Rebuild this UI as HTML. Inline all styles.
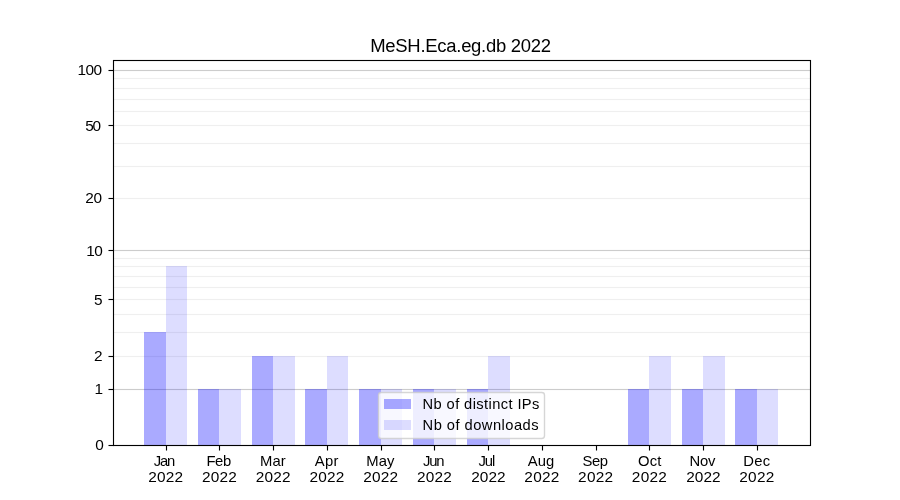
<!DOCTYPE html>
<html><head><meta charset="utf-8"><title>MeSH.Eca.eg.db 2022</title>
<style>
html,body{margin:0;padding:0;background:#fff;}
body{width:900px;height:500px;overflow:hidden;}
svg{display:block;}
text{font-family:"Liberation Sans",sans-serif;fill:#000;}
.t10{font-size:14.0px;}
.t12{font-size:17.6px;}
.ln{stroke:#000;stroke-width:1.111;fill:none;}
.gM{stroke:#cccccc;stroke-width:1.111;}
.gm{stroke:#efefef;stroke-width:1.111;}
.b1{fill:#0000ff;fill-opacity:0.3333;}
.b2{fill:#0000ff;fill-opacity:0.1333;}
</style></head>
<body>
<svg width="900" height="500" viewBox="0 0 900 500">
<rect x="0" y="0" width="900" height="500" fill="#ffffff"/>
<g>
<rect x="113" y="388" width="698" height="3" fill="#cccccc" fill-opacity="0.057"/><rect x="113" y="389" width="698" height="1" fill="#cccccc"/>
<rect x="113" y="249" width="698" height="3" fill="#cccccc" fill-opacity="0.057"/><rect x="113" y="250" width="698" height="1" fill="#cccccc"/>
<rect x="113" y="69" width="698" height="3" fill="#cccccc" fill-opacity="0.057"/><rect x="113" y="70" width="698" height="1" fill="#cccccc"/>
<rect x="113" y="355" width="698" height="3" fill="#efefef" fill-opacity="0.057"/><rect x="113" y="356" width="698" height="1" fill="#efefef"/>
<rect x="113" y="331" width="698" height="3" fill="#efefef" fill-opacity="0.057"/><rect x="113" y="332" width="698" height="1" fill="#efefef"/>
<rect x="113" y="313" width="698" height="3" fill="#efefef" fill-opacity="0.057"/><rect x="113" y="314" width="698" height="1" fill="#efefef"/>
<rect x="113" y="298" width="698" height="3" fill="#efefef" fill-opacity="0.057"/><rect x="113" y="299" width="698" height="1" fill="#efefef"/>
<rect x="113" y="286" width="698" height="3" fill="#efefef" fill-opacity="0.057"/><rect x="113" y="287" width="698" height="1" fill="#efefef"/>
<rect x="113" y="275" width="698" height="3" fill="#efefef" fill-opacity="0.057"/><rect x="113" y="276" width="698" height="1" fill="#efefef"/>
<rect x="113" y="265" width="698" height="3" fill="#efefef" fill-opacity="0.057"/><rect x="113" y="266" width="698" height="1" fill="#efefef"/>
<rect x="113" y="257" width="698" height="3" fill="#efefef" fill-opacity="0.057"/><rect x="113" y="258" width="698" height="1" fill="#efefef"/>
<rect x="113" y="197" width="698" height="3" fill="#efefef" fill-opacity="0.057"/><rect x="113" y="198" width="698" height="1" fill="#efefef"/>
<rect x="113" y="165" width="698" height="3" fill="#efefef" fill-opacity="0.057"/><rect x="113" y="166" width="698" height="1" fill="#efefef"/>
<rect x="113" y="142" width="698" height="3" fill="#efefef" fill-opacity="0.057"/><rect x="113" y="143" width="698" height="1" fill="#efefef"/>
<rect x="113" y="124" width="698" height="3" fill="#efefef" fill-opacity="0.057"/><rect x="113" y="125" width="698" height="1" fill="#efefef"/>
<rect x="113" y="110" width="698" height="3" fill="#efefef" fill-opacity="0.057"/><rect x="113" y="111" width="698" height="1" fill="#efefef"/>
<rect x="113" y="98" width="698" height="3" fill="#efefef" fill-opacity="0.057"/><rect x="113" y="99" width="698" height="1" fill="#efefef"/>
<rect x="113" y="87" width="698" height="3" fill="#efefef" fill-opacity="0.057"/><rect x="113" y="88" width="698" height="1" fill="#efefef"/>
<rect x="113" y="77" width="698" height="3" fill="#efefef" fill-opacity="0.057"/><rect x="113" y="78" width="698" height="1" fill="#efefef"/>
</g>
<g>
<rect class="b1" x="144" y="332" width="22" height="113"/>
<rect class="b2" x="166" y="266" width="21" height="179"/>
<rect class="b1" x="198" y="389" width="21" height="56"/>
<rect class="b2" x="219" y="389" width="22" height="56"/>
<rect class="b1" x="252" y="356" width="21" height="89"/>
<rect class="b2" x="273" y="356" width="22" height="89"/>
<rect class="b1" x="305" y="389" width="22" height="56"/>
<rect class="b2" x="327" y="356" width="21" height="89"/>
<rect class="b1" x="359" y="389" width="22" height="56"/>
<rect class="b2" x="381" y="389" width="21" height="56"/>
<rect class="b1" x="413" y="389" width="21" height="56"/>
<rect class="b2" x="434" y="389" width="22" height="56"/>
<rect class="b1" x="467" y="389" width="21" height="56"/>
<rect class="b2" x="488" y="356" width="22" height="89"/>
<rect class="b1" x="628" y="389" width="21" height="56"/>
<rect class="b2" x="649" y="356" width="22" height="89"/>
<rect class="b1" x="682" y="389" width="21" height="56"/>
<rect class="b2" x="703" y="356" width="22" height="89"/>
<rect class="b1" x="735" y="389" width="22" height="56"/>
<rect class="b2" x="757" y="389" width="21" height="56"/>
</g>
<g>
<rect x="165" y="445" width="3" height="5.5" fill="#000000" fill-opacity="0.057"/><rect x="166" y="445" width="1" height="5.5" fill="#000000"/>
<rect x="218" y="445" width="3" height="5.5" fill="#000000" fill-opacity="0.057"/><rect x="219" y="445" width="1" height="5.5" fill="#000000"/>
<rect x="272" y="445" width="3" height="5.5" fill="#000000" fill-opacity="0.057"/><rect x="273" y="445" width="1" height="5.5" fill="#000000"/>
<rect x="326" y="445" width="3" height="5.5" fill="#000000" fill-opacity="0.057"/><rect x="327" y="445" width="1" height="5.5" fill="#000000"/>
<rect x="380" y="445" width="3" height="5.5" fill="#000000" fill-opacity="0.057"/><rect x="381" y="445" width="1" height="5.5" fill="#000000"/>
<rect x="433" y="445" width="3" height="5.5" fill="#000000" fill-opacity="0.057"/><rect x="434" y="445" width="1" height="5.5" fill="#000000"/>
<rect x="487" y="445" width="3" height="5.5" fill="#000000" fill-opacity="0.057"/><rect x="488" y="445" width="1" height="5.5" fill="#000000"/>
<rect x="541" y="445" width="3" height="5.5" fill="#000000" fill-opacity="0.057"/><rect x="542" y="445" width="1" height="5.5" fill="#000000"/>
<rect x="595" y="445" width="3" height="5.5" fill="#000000" fill-opacity="0.057"/><rect x="596" y="445" width="1" height="5.5" fill="#000000"/>
<rect x="648" y="445" width="3" height="5.5" fill="#000000" fill-opacity="0.057"/><rect x="649" y="445" width="1" height="5.5" fill="#000000"/>
<rect x="702" y="445" width="3" height="5.5" fill="#000000" fill-opacity="0.057"/><rect x="703" y="445" width="1" height="5.5" fill="#000000"/>
<rect x="756" y="445" width="3" height="5.5" fill="#000000" fill-opacity="0.057"/><rect x="757" y="445" width="1" height="5.5" fill="#000000"/>
<rect x="108.5" y="444" width="5.5" height="3" fill="#000000" fill-opacity="0.057"/><rect x="108.5" y="445" width="5.5" height="1" fill="#000000"/>
<rect x="108.5" y="388" width="5.5" height="3" fill="#000000" fill-opacity="0.057"/><rect x="108.5" y="389" width="5.5" height="1" fill="#000000"/>
<rect x="108.5" y="355" width="5.5" height="3" fill="#000000" fill-opacity="0.057"/><rect x="108.5" y="356" width="5.5" height="1" fill="#000000"/>
<rect x="108.5" y="298" width="5.5" height="3" fill="#000000" fill-opacity="0.057"/><rect x="108.5" y="299" width="5.5" height="1" fill="#000000"/>
<rect x="108.5" y="249" width="5.5" height="3" fill="#000000" fill-opacity="0.057"/><rect x="108.5" y="250" width="5.5" height="1" fill="#000000"/>
<rect x="108.5" y="197" width="5.5" height="3" fill="#000000" fill-opacity="0.057"/><rect x="108.5" y="198" width="5.5" height="1" fill="#000000"/>
<rect x="108.5" y="124" width="5.5" height="3" fill="#000000" fill-opacity="0.057"/><rect x="108.5" y="125" width="5.5" height="1" fill="#000000"/>
<rect x="108.5" y="69" width="5.5" height="3" fill="#000000" fill-opacity="0.057"/><rect x="108.5" y="70" width="5.5" height="1" fill="#000000"/>
</g>
<g>
<rect x="112" y="60" width="3" height="386" fill="#000000" fill-opacity="0.057"/><rect x="113" y="60" width="1" height="386" fill="#000000"/>
<rect x="809" y="60" width="3" height="386" fill="#000000" fill-opacity="0.057"/><rect x="810" y="60" width="1" height="386" fill="#000000"/>
<rect x="113" y="59" width="698" height="3" fill="#000000" fill-opacity="0.057"/><rect x="113" y="60" width="698" height="1" fill="#000000"/>
<rect x="113" y="444" width="698" height="3" fill="#000000" fill-opacity="0.057"/><rect x="113" y="445" width="698" height="1" fill="#000000"/>
</g>
<g style="will-change:transform">
<text class="t12" transform="translate(370.19 51.9) scale(1.05 1)" textLength="172.29" lengthAdjust="spacing">MeSH.Eca.eg.db 2022</text>
<text class="t10" transform="translate(153.81 466) scale(1.06 1)" textLength="20.17" lengthAdjust="spacing">Jan</text>
<text class="t10" transform="translate(148.2 482) scale(1.1 1)" textLength="31.82" lengthAdjust="spacing">2022</text>
<text class="t10" transform="translate(206.53 466) scale(1.06 1)" textLength="23.23" lengthAdjust="spacing">Feb</text>
<text class="t10" transform="translate(201.94 482) scale(1.1 1)" textLength="31.82" lengthAdjust="spacing">2022</text>
<text class="t10" transform="translate(259.98 466) scale(1.06 1)" textLength="24.32" lengthAdjust="spacing">Mar</text>
<text class="t10" transform="translate(255.67 482) scale(1.1 1)" textLength="31.82" lengthAdjust="spacing">2022</text>
<text class="t10" transform="translate(314.85 466) scale(1.06 1)" textLength="22.19" lengthAdjust="spacing">Apr</text>
<text class="t10" transform="translate(309.41 482) scale(1.1 1)" textLength="31.82" lengthAdjust="spacing">2022</text>
<text class="t10" transform="translate(366.21 466) scale(1.06 1)" textLength="26.68" lengthAdjust="spacing">May</text>
<text class="t10" transform="translate(363.15 482) scale(1.1 1)" textLength="31.82" lengthAdjust="spacing">2022</text>
<text class="t10" transform="translate(423.03 466) scale(1.06 1)" textLength="20.28" lengthAdjust="spacing">Jun</text>
<text class="t10" transform="translate(416.88 482) scale(1.1 1)" textLength="31.82" lengthAdjust="spacing">2022</text>
<text class="t10" transform="translate(478.61 466) scale(1.06 1)" textLength="15.68" lengthAdjust="spacing">Jul</text>
<text class="t10" transform="translate(471.22 482) scale(1.1 1)" textLength="31.27" lengthAdjust="spacing">2022</text>
<text class="t10" transform="translate(527.69 466) scale(1.06 1)" textLength="25.02" lengthAdjust="spacing">Aug</text>
<text class="t10" transform="translate(524.35 482) scale(1.1 1)" textLength="31.82" lengthAdjust="spacing">2022</text>
<text class="t10" transform="translate(582.53 466) scale(1.06 1)" textLength="24.08" lengthAdjust="spacing">Sep</text>
<text class="t10" transform="translate(578.09 482) scale(1.1 1)" textLength="31.82" lengthAdjust="spacing">2022</text>
<text class="t10" transform="translate(637.93 466) scale(1.06 1)" textLength="22.08" lengthAdjust="spacing">Oct</text>
<text class="t10" transform="translate(631.83 482) scale(1.1 1)" textLength="31.82" lengthAdjust="spacing">2022</text>
<text class="t10" transform="translate(689.5 466) scale(1.06 1)" textLength="24.45" lengthAdjust="spacing">Nov</text>
<text class="t10" transform="translate(686.16 482) scale(1.1 1)" textLength="31.27" lengthAdjust="spacing">2022</text>
<text class="t10" transform="translate(743.36 466) scale(1.06 1)" textLength="25.36" lengthAdjust="spacing">Dec</text>
<text class="t10" transform="translate(739.3 482) scale(1.1 1)" textLength="31.82" lengthAdjust="spacing">2022</text>
<text class="t10" transform="translate(95.23 450) scale(1.1 1)" textLength="7.41" lengthAdjust="spacing">0</text>
<text class="t10" transform="translate(94.5 394) scale(1.1 1)" textLength="7.53" lengthAdjust="spacing">1</text>
<text class="t10" transform="translate(94.03 361) scale(1.1 1)" textLength="5.77" lengthAdjust="spacing">2</text>
<text class="t10" transform="translate(94.03 305) scale(1.1 1)" textLength="5.77" lengthAdjust="spacing">5</text>
<text class="t10" transform="translate(86.35 256) scale(1.1 1)" textLength="14.94" lengthAdjust="spacing">10</text>
<text class="t10" transform="translate(85.28 203) scale(1.1 1)" textLength="15.36" lengthAdjust="spacing">20</text>
<text class="t10" transform="translate(85.28 131) scale(1.1 1)" textLength="14.27" lengthAdjust="spacing">50</text>
<text class="t10" transform="translate(77.6 75) scale(1.1 1)" textLength="22.35" lengthAdjust="spacing">100</text>
</g>
<g>
<rect x="378.5" y="392.5" width="166" height="46" rx="2.8" ry="2.8" fill="#ffffff" fill-opacity="0.8" stroke="#cccccc" stroke-opacity="0.8" stroke-width="1.389"/>
<rect class="b1" x="384" y="399" width="27" height="10"/>
<rect class="b2" x="384" y="420" width="27" height="10"/>
<g style="will-change:transform">
<text class="t10" transform="translate(422.57 409) scale(1.05 1)" textLength="111.29" lengthAdjust="spacing">Nb of distinct IPs</text>
<text class="t10" transform="translate(422.57 430) scale(1.05 1)" textLength="110.48" lengthAdjust="spacing">Nb of downloads</text>
</g>
</g>
</svg>
</body></html>
